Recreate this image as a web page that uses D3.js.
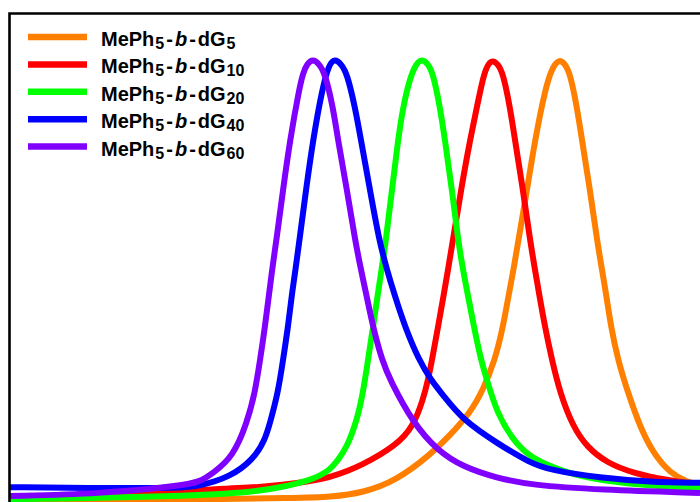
<!DOCTYPE html>
<html><head><meta charset="utf-8">
<script src="https://cdn.jsdelivr.net/npm/d3@7/dist/d3.min.js"></script>
<style>html,body{margin:0;padding:0;background:#fff;overflow:hidden}</style>
</head><body>
<script>
// Normalized GPC traces: [elution (arb. units), normalized intensity %]
const seriesLabels = ["5", "10", "20", "40", "60"];
const seriesColors = ["#FF8000", "#FF0000", "#00FF00", "#0000FF", "#8000FF"];

const dG5 = [[0,-0.2],[17.1,0],[29.1,0.5],[32.1,0.7],[35.4,1.6],[38.8,4.5],[42.1,10.2],[44.1,14.7],[46.1,19.7],[47.4,24.9],[48.6,31.7],[49.4,39.2],[50.0,46.9],[50.45,52.2],[50.95,59.0],[51.8,70.3],[52.6,81.6],[53.6,93.0],[54.3,98.0],[55.0,100],[55.6,98.9],[56.1,96.8],[56.8,89.1],[57.3,81.6],[58.1,70.3],[58.8,59.0],[59.3,52.2],[59.7,46.9],[60.2,39.2],[60.9,31.7],[61.9,24.3],[63.1,16.6],[64.4,10.7],[66.1,6.1],[67.8,4.1],[69.1,3.4]];

const dG10 = [[0,0.7],[9.1,1.1],[19.1,2.3],[25.4,2.9],[29.1,3.9],[32.1,5.0],[35.4,7.9],[38.8,12.5],[40.4,16.6],[41.4,22.7],[41.9,27.2],[42.3,31.7],[42.9,39.2],[43.5,46.9],[43.9,52.2],[44.4,59.0],[45.2,70.3],[46.1,81.6],[46.8,89.1],[47.5,97.1],[48.2,100],[48.9,98.9],[49.4,96.8],[50.1,89.1],[50.6,81.6],[51.4,70.3],[52.1,59.0],[52.6,52.2],[53.0,46.9],[53.6,39.2],[54.3,31.7],[55.1,24.3],[56.4,16.6],[57.8,12.0],[59.8,8.4],[62.4,6.1],[65.8,4.5],[69.1,3.4]];

const dG20 = [[0,0.2],[9.1,0.5],[17.1,0.9],[25.4,1.8],[30.4,4.5],[32.1,6.8],[32.9,9.1],[33.8,12.0],[34.8,18.1],[35.4,24.3],[35.9,31.7],[36.4,39.2],[36.9,46.9],[37.25,52.2],[37.7,59.0],[38.3,70.3],[38.9,81.6],[39.4,89.1],[40.1,95.7],[40.7,98.9],[41.3,100],[41.9,98.9],[42.4,96.8],[43.1,89.1],[43.6,81.6],[44.3,70.3],[44.9,59.0],[45.4,52.2],[45.85,46.9],[46.5,39.2],[47.2,31.7],[47.8,27.2],[48.8,19.7],[50.4,13.6],[52.1,9.5],[55.8,6.1],[59.1,4.5],[64.1,3.2],[69.1,2.7]];

const dG40 = [[0,2.9],[9.1,2.7],[17.1,2.7],[19.1,3.2],[22.1,5.2],[24.4,9.1],[25.6,13.6],[26.1,17.5],[26.9,24.3],[27.4,31.7],[27.9,39.2],[28.3,46.9],[28.65,52.2],[29.05,59.0],[29.7,70.3],[30.4,81.6],[31.3,93.0],[32.0,98.9],[32.6,100],[33.2,98.9],[33.8,96.8],[34.6,89.1],[35.2,81.6],[36.1,70.3],[37.0,59.0],[37.8,52.2],[38.5,46.9],[39.6,39.2],[41.0,31.7],[42.2,27.2],[43.4,23.8],[45.4,18.1],[48.8,12.9],[52.1,8.4],[54.1,6.8],[59.1,5.0],[64.1,4.1],[69.1,3.9]];

const dG60 = [[0,0.9],[9.1,1.4],[17.1,3.2],[19.1,4.1],[20.4,6.1],[22.4,9.8],[23.8,17.5],[24.6,24.3],[25.1,31.7],[25.6,39.2],[26.3,52.2],[26.75,59.0],[27.4,70.3],[28.1,81.6],[29.0,93.0],[29.4,96.8],[29.8,98.9],[30.4,100],[31.0,98.9],[31.6,96.8],[32.4,89.1],[32.9,81.6],[33.8,70.3],[34.6,59.0],[35.2,52.2],[35.7,46.9],[36.4,39.2],[37.3,31.7],[38.1,27.2],[40.4,17.5],[42.8,11.3],[45.4,7.5],[48.8,5.0],[52.1,3.4],[59.1,2.3],[69.1,1.6]];

const seriesData = [dG5, dG10, dG20, dG40, dG60];

const W = 700, H = 502;
const svg = d3.select("body").append("svg").attr("width", W).attr("height", H);

const x = d3.scaleLinear().domain([0, 69.1]).range([9, 700]);
const y = d3.scaleLinear().domain([0, 100]).range([500, 59]);

svg.append("defs").append("clipPath").attr("id", "plotclip")
  .append("rect").attr("x", 9).attr("y", 13).attr("width", 700).attr("height", 500);

const line = d3.line().x(d => x(d[0])).y(d => y(d[1])).curve(d3.curveBasis);

const g = svg.append("g").attr("clip-path", "url(#plotclip)");
seriesData.forEach((s, i) => {
  g.append("path").datum(s).attr("d", line)
    .attr("fill", "none").attr("stroke", seriesColors[i])
    .attr("stroke-width", 6).attr("stroke-linejoin", "round");
});

// frame (left and top edges visible)
svg.append("path").attr("d", "M9.5,510 L9.5,13.5 L710,13.5")
  .attr("fill", "none").attr("stroke", "#000").attr("stroke-width", 2.6);

// legend
const leg = svg.append("g");
seriesLabels.forEach((lab, i) => {
  const yy = 37 + i * 27.4;
  leg.append("line").attr("x1", 28).attr("x2", 87).attr("y1", yy).attr("y2", yy)
    .attr("stroke", seriesColors[i]).attr("stroke-width", 6.5);
  const t = leg.append("text").attr("x", 101).attr("y", yy + 9)
    .attr("font-family", "'Liberation Sans', Arial, sans-serif")
    .attr("font-weight", "bold").attr("font-size", 20).attr("fill", "#000");
  t.append("tspan").text("MePh");
  t.append("tspan").attr("font-size", 16).attr("dx", 1).attr("dy", 3).text("5");
  t.append("tspan").attr("dx", 2).attr("dy", -3).text("-");
  t.append("tspan").attr("dx", 2).attr("font-style", "italic").text("b");
  t.append("tspan").attr("dx", 2).text("-");
  t.append("tspan").attr("dx", 2).text("dG");
  t.append("tspan").attr("font-size", 16).attr("dx", 1).attr("dy", 3).text(lab);
});
</script>
</body></html>
